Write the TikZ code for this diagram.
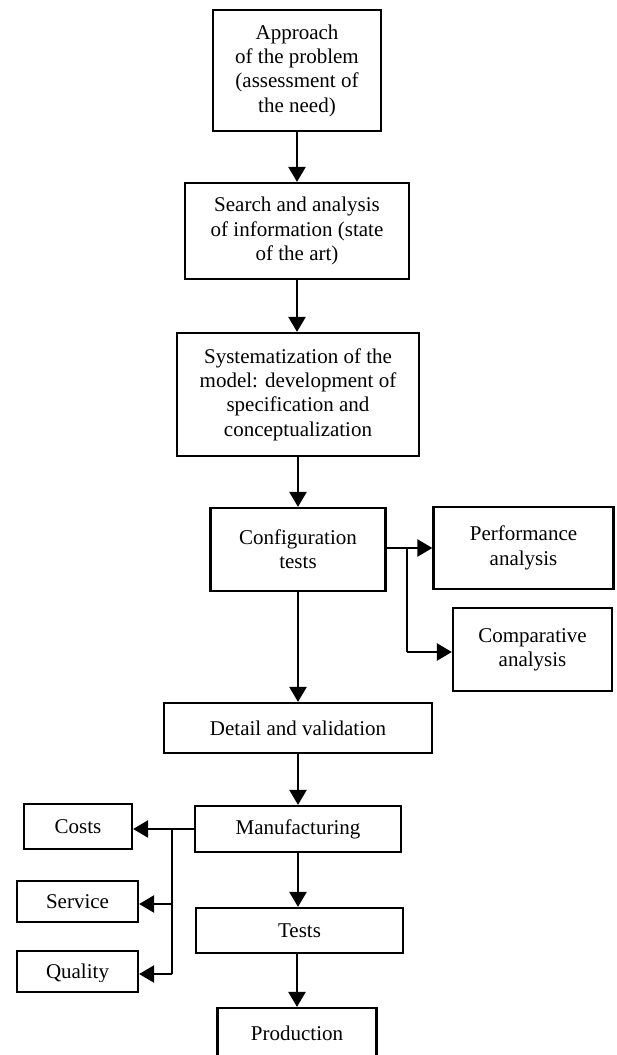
\documentclass[tikz,border=0pt]{standalone}
\usepackage{fontspec}
\setmainfont{Liberation Serif}
\usetikzlibrary{arrows.meta}
\begin{document}
\begin{tikzpicture}[x=1pt,y=-1pt,
  box/.style={draw, line width=2.2pt, inner sep=0pt, align=center,
    font=\fontsize{21}{24.3}\selectfont},
  plain/.style={inner sep=0pt, align=center, font=\fontsize{21}{24.3}\selectfont},
  conn/.style={line width=2.4pt, -{Triangle[length=15pt,width=17pt]}},
  seg/.style={line width=2.4pt}]
\clip (0,0) rectangle (617,1055);
\fill[white] (0,0) rectangle (617,1055);

\node[box, minimum width=168pt, minimum height=121pt] (approach) at (297,70.5)
  {Approach\\of the problem\\(assessment of\\the need)};
\node[box, minimum width=224pt, minimum height=96pt] (search) at (297,231)
  {Search and analysis\\of information (state\\of the art)};
\node[box, minimum width=242pt, minimum height=123pt] (system) at (298,394.5)
  {Systematization of the\\model: development of\\specification and\\conceptualization};
\node[box, minimum width=175pt, minimum height=83pt] (config) at (298,549.5)
  {Configuration\\tests};
\node[box, minimum width=180pt, minimum height=82pt] (perf) at (523.5,548)
  {Performance\\analysis};
\node[box, minimum width=159pt, minimum height=83pt] (comp) at (532.5,649.5)
  {Comparative\\analysis};
\node[box, minimum width=268pt, minimum height=50pt] (detail) at (298,728)
  {Detail and validation};
\node[box, minimum width=206pt, minimum height=46pt] (manuf) at (298,829)
  {Manufacturing};
\node[box, minimum width=108pt, minimum height=45pt] (costs) at (78,826.5)
  {Costs};
\node[box, minimum width=121pt, minimum height=41pt] (service) at (77.5,901.5)
  {Service};
\node[box, minimum width=121pt, minimum height=41pt] (quality) at (77.5,971.5) {};
\begin{scope}
  \clip (17,951) rectangle (138,981);
  \node[plain] (qualitytext) at (77.5,973) {Quality};
\end{scope}
\node[box, minimum width=207pt, minimum height=45pt] (tests) at (299.5,930.5)
  {Tests};
\node[box, minimum width=159pt, minimum height=50pt] (production) at (297,1033)
  {Production};

% main chain
\draw[conn] (approach.south) -- (approach.south |- search.north);
\draw[conn] (search.south) -- (search.south |- system.north);
\draw[conn] (system.south) -- (system.south |- config.north);
\draw[conn] (config.south) -- (config.south |- detail.north);
\draw[conn] (detail.south) -- (detail.south |- manuf.north);
\draw[conn] (manuf.south) -- (manuf.south |- tests.north);
\draw[conn] (production.north |- tests.south) -- (production.north);

% config branches
\coordinate (cb) at (407,548);
\coordinate (cbb) at (407,652);
\draw[conn] (config.east |- cb) -- (perf.west |- cb);
\draw[seg] (cb) -- (cbb);
\draw[conn] (cbb) -- (comp.west |- cbb);

% manufacturing branches
\coordinate (mb) at (172,829);
\coordinate (mbs) at (172,904);
\coordinate (mbq) at (172,974);
\draw[conn] (manuf.west |- mb) -- (costs.east |- mb);
\draw[seg] (mb) -- (mbq);
\draw[conn] (mbs) -- (service.east |- mbs);
\draw[conn] (mbq) -- (quality.east |- mbq);
\end{tikzpicture}
\end{document}
